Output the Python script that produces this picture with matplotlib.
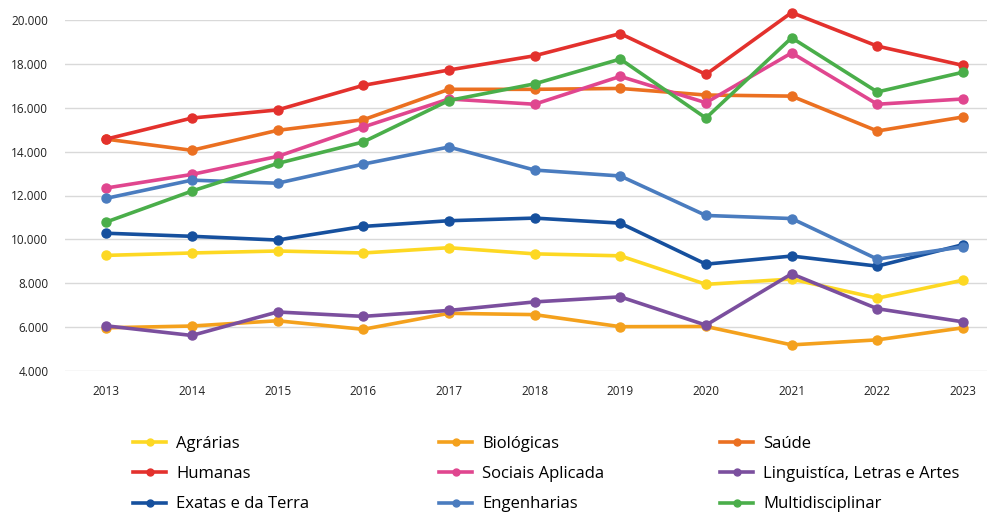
import matplotlib
matplotlib.use("Agg")
import matplotlib.pyplot as plt
from matplotlib.ticker import FuncFormatter, MultipleLocator
from matplotlib.lines import Line2D

years = [2013, 2014, 2015, 2016, 2017, 2018, 2019, 2020, 2021, 2022, 2023]

agrarias = [9270, 9380, 9470, 9380, 9620, 9340, 9250, 7950, 8190, 7320, 8140]
biologicas = [5970, 6050, 6290, 5900, 6630, 6570, 6020, 6030, 5190, 5420, 5970]
saude = [14570, 14060, 14970, 15450, 16840, 16840, 16880, 16580, 16530, 14940, 15580]
humanas = [14570, 15530, 15900, 17020, 17720, 18370, 19380, 17520, 20340, 18810, 17930]
sociais = [12340, 12960, 13780, 15120, 16400, 16160, 17430, 16230, 18500, 16160, 16400]
linguistica = [6060, 5620, 6690, 6490, 6760, 7150, 7380, 6090, 8430, 6840, 6240]
exatas = [10280, 10140, 9970, 10590, 10850, 10970, 10740, 8870, 9240, 8780, 9760]
engenharias = [11870, 12700, 12560, 13430, 14210, 13160, 12890, 11090, 10950, 9100, 9660]
multidisciplinar = [10790, 12200, 13460, 14440, 16330, 17090, 18220, 15530, 19190, 16720, 17620]

labels = ["Agrárias", "Biológicas", "Saúde", "Humanas", "Sociais Aplicada",
          "Linguistíca, Letras e Artes", "Exatas e da Terra", "Engenharias",
          "Multidisciplinar"]
series = [agrarias, biologicas, saude, humanas, sociais, linguistica, exatas,
          engenharias, multidisciplinar]
colors = ["#FDD823", "#F4A11D", "#EB7021", "#E3312D", "#E0468F", "#7B4F9E",
          "#16509E", "#4A7CBF", "#4AAE4A"]

plt.rcParams['font.family'] = ['Open Sans', 'DejaVu Sans']

fig = plt.figure(figsize=(9.88, 5.12), dpi=100)
ax = fig.add_axes([65/988, 1 - 371/512, (987-65)/988, (371-20)/512])

for vals, c, lab in zip(series, colors, labels):
    ax.plot(years, vals, color=c, lw=2.6, marker='o', ms=6.5, label=lab,
            solid_capstyle='round', zorder=3, clip_on=False)

ax.set_ylim(4000, 20000)
ax.set_xlim(2012.52, 2023.28)
ax.yaxis.set_major_locator(MultipleLocator(2000))
ax.yaxis.set_major_formatter(FuncFormatter(lambda v, p: f"{int(v):,}".replace(",", ".")))
ax.set_xticks(years)
ax.grid(axis='y', color='#d9d9d9', lw=1)
ax.set_axisbelow(True)
for s in ax.spines.values():
    s.set_visible(False)
ax.tick_params(axis='both', length=0, labelsize=8.5, colors='#222222')
ax.tick_params(axis='y', pad=12)
ax.tick_params(axis='x', pad=10)

# legend in three columns
cols = [[0, 3, 6], [1, 4, 7], [2, 5, 8]]
xs = [137, 443, 724]
for xi, idx in zip(xs, cols):
    hs = [Line2D([0], [0], color=colors[i], lw=2.6, marker='o', ms=5) for i in idx]
    fig.legend(hs, [labels[i] for i in idx], loc='upper left',
               bbox_to_anchor=(xi/988 - 0.004, 1 - 436/512), frameon=False,
               fontsize=12, handlelength=2.0, handletextpad=0.6,
               labelspacing=0.85, borderaxespad=0, borderpad=0)

fig.savefig("out.png", dpi=100)
